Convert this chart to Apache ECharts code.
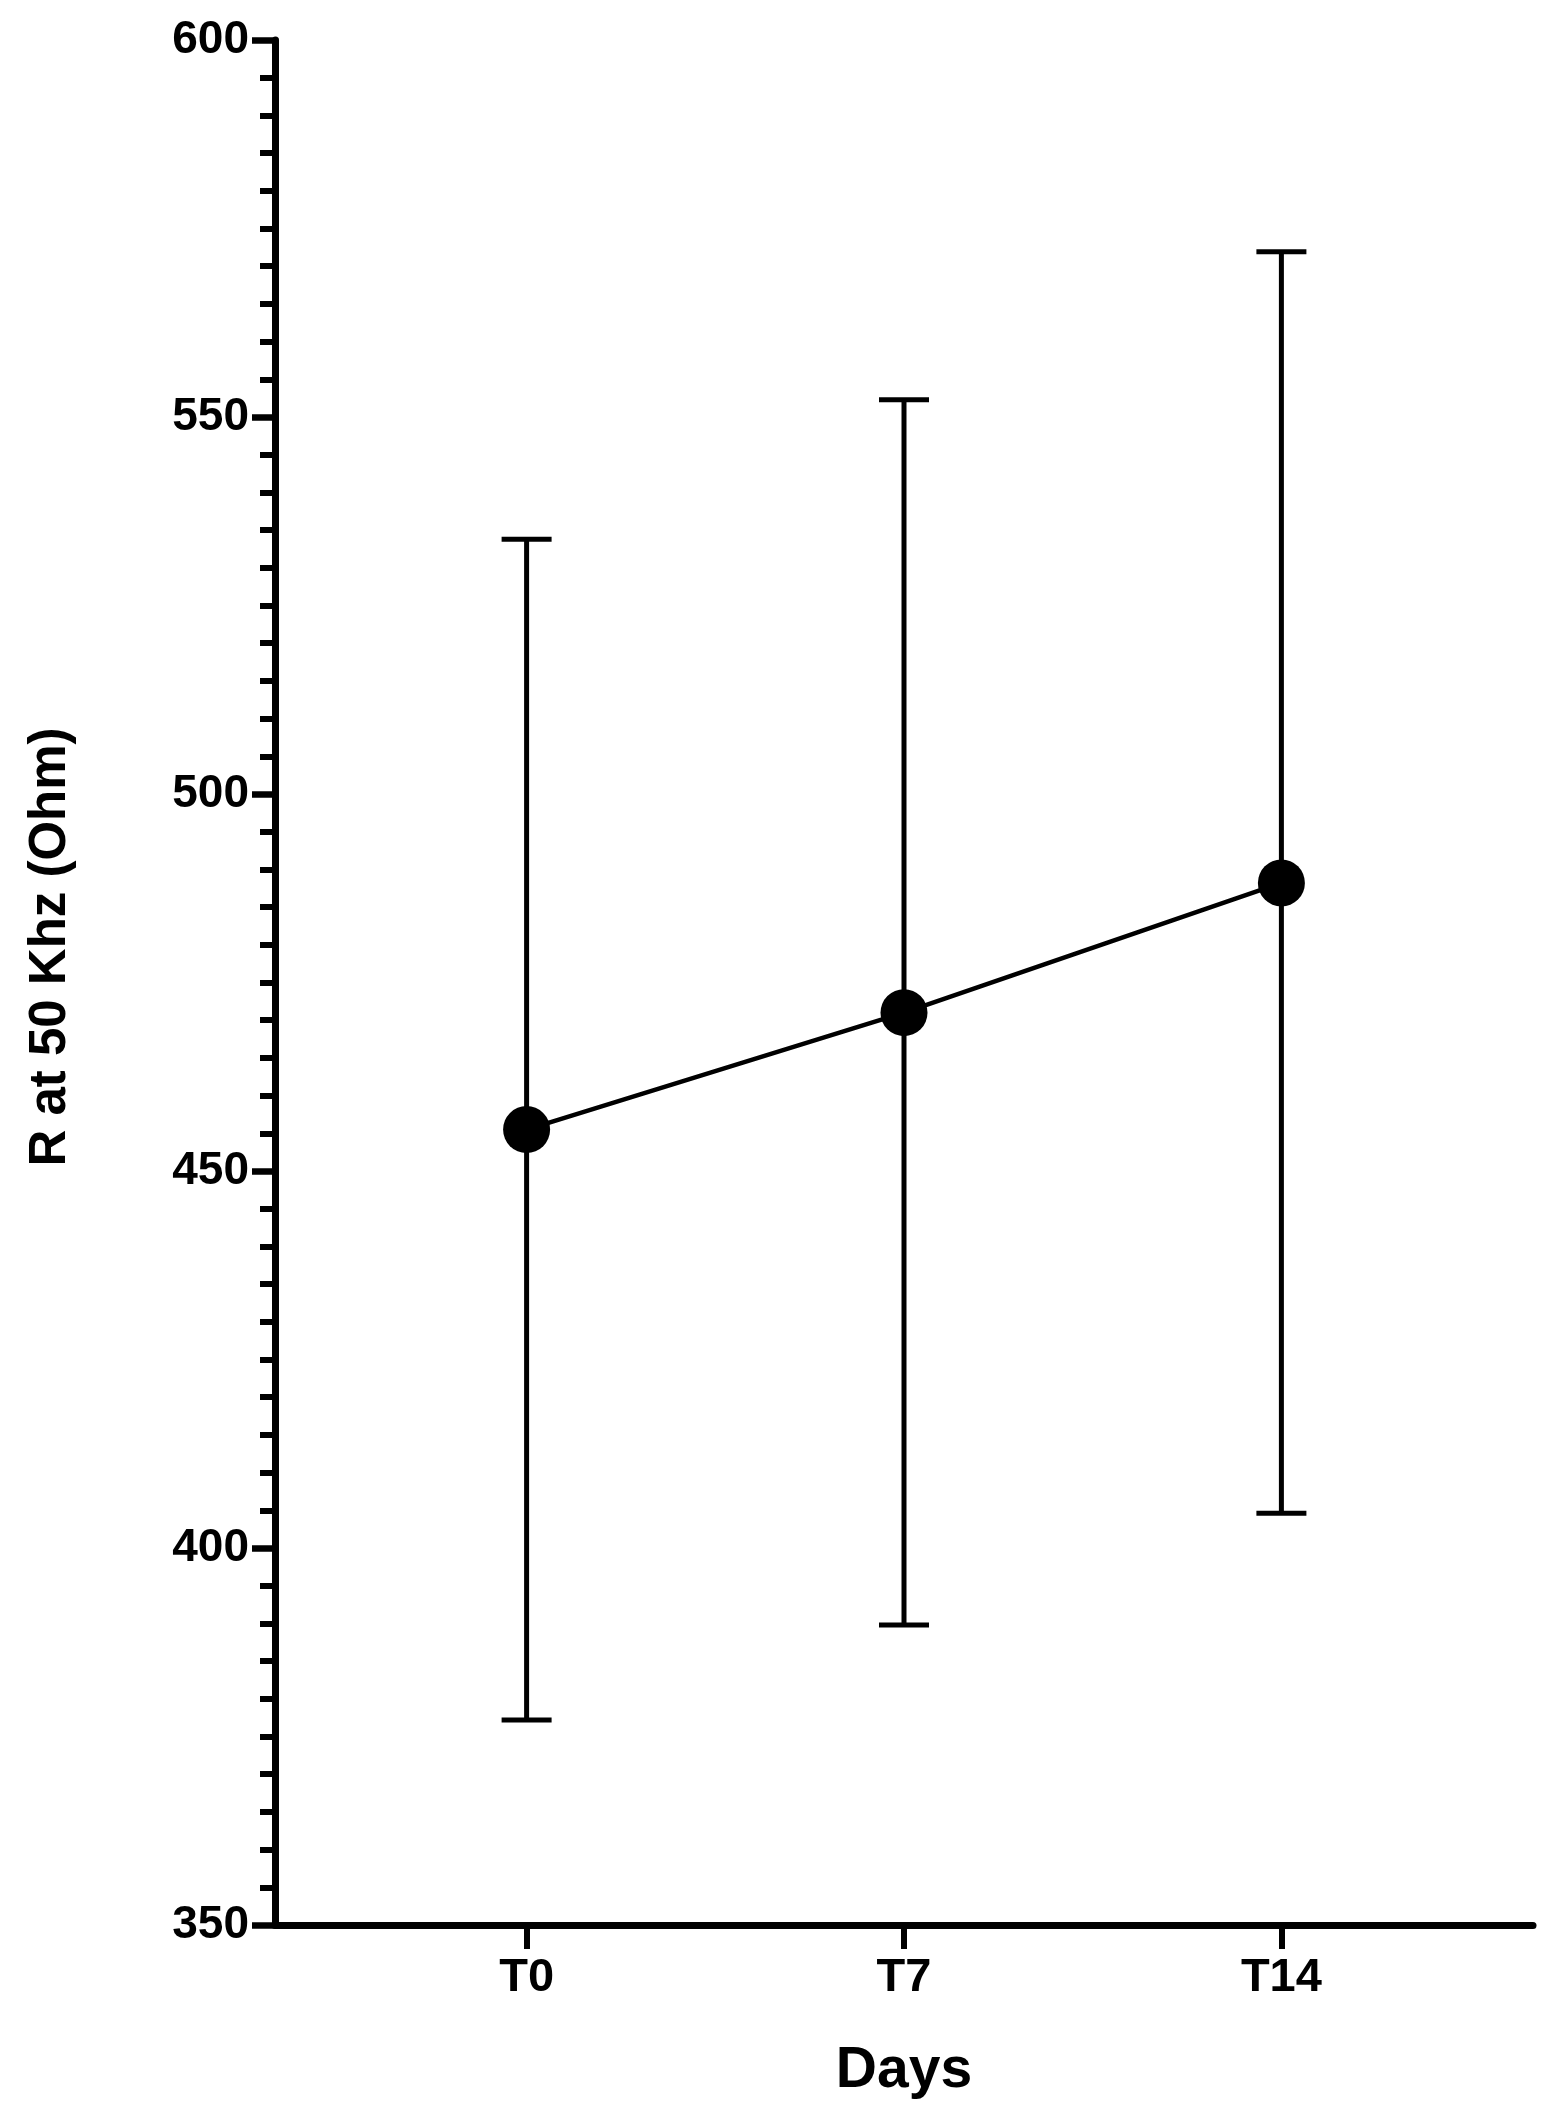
<!DOCTYPE html>
<html>
<head>
<meta charset="utf-8">
<script src="https://cdn.jsdelivr.net/npm/echarts@6/dist/echarts.min.js"></script>
<style>
html,body{margin:0;padding:0;background:#fff;}
#chart{width:1554px;height:2105px;}
</style>
</head>
<body>
<div id="chart"></div>
<script>
const categories = ['T0', 'T7', 'T14'];
const meanValues = [455.5, 471.0, 488.2];
const lowerValues = [377.2, 389.8, 404.6];
const upperValues = [533.8, 552.3, 571.9];
const yTicks = [350, 400, 450, 500, 550, 600];

const FONT = '"Liberation Sans", Arial, Helvetica, sans-serif';
const chart = echarts.init(document.getElementById('chart'), null, {renderer: 'canvas'});

const lineData = meanValues.map((v, i) => [i, v]);
const errData = categories.map((c, i) => [i, lowerValues[i], upperValues[i]]);

chart.setOption({
  backgroundColor: '#ffffff',
  animation: false,
  grid: {left: 275, right: 21, top: 40, bottom: 180},
  xAxis: {
    type: 'value',
    min: -2/3,
    max: 8/3,
    splitLine: {show: false},
    axisLine: {show: true, onZero: false, lineStyle: {color: '#000', width: 7}},
    axisTick: {show: true, customValues: [0, 1, 2], length: 24, lineStyle: {color: '#000', width: 6}},
    axisLabel: {
      show: true,
      customValues: [0, 1, 2],
      formatter: v => categories[Math.round(v)],
      color: '#000', fontFamily: FONT, fontWeight: 'bold', fontSize: 47, margin: 30
    },
    name: 'Days',
    nameLocation: 'middle',
    nameGap: 118,
    nameTextStyle: {color: '#000', fontFamily: FONT, fontWeight: 'bold', fontSize: 57}
  },
  yAxis: {
    type: 'value',
    min: yTicks[0],
    max: yTicks[yTicks.length - 1],
    interval: 50,
    splitLine: {show: false},
    axisLine: {show: true, onZero: false, lineStyle: {color: '#000', width: 7}},
    axisTick: {show: true, length: 23, lineStyle: {color: '#000', width: 6.5}},
    minorTick: {show: true, splitNumber: 10, length: 15, lineStyle: {color: '#000', width: 6}},
    minorSplitLine: {show: false},
    axisLabel: {color: '#000', fontFamily: FONT, fontWeight: 'bold', fontSize: 46, margin: 26}
  },
  graphic: [{
    type: 'text',
    x: 51, y: 947,
    rotation: Math.PI / 2,
    style: {
      text: 'R at 50 Khz (Ohm)',
      fill: '#000',
      font: 'bold 51px ' + FONT,
      align: 'center',
      verticalAlign: 'middle'
    }
  }],
  series: [
    {
      type: 'custom',
      data: errData,
      z: 2,
      renderItem: function (params, api) {
        const x = api.value(0);
        const lo = api.coord([x, api.value(1)]);
        const hi = api.coord([x, api.value(2)]);
        const hw = 25;
        const st = {stroke: '#000', lineWidth: 5};
        return {
          type: 'group',
          children: [
            {type: 'line', shape: {x1: lo[0], y1: lo[1], x2: hi[0], y2: hi[1]}, style: st},
            {type: 'line', shape: {x1: hi[0] - hw, y1: hi[1], x2: hi[0] + hw, y2: hi[1]}, style: st},
            {type: 'line', shape: {x1: lo[0] - hw, y1: lo[1], x2: lo[0] + hw, y2: lo[1]}, style: st}
          ]
        };
      }
    },
    {
      type: 'line',
      data: lineData,
      z: 3,
      symbol: 'circle',
      symbolSize: 47,
      itemStyle: {color: '#000'},
      lineStyle: {color: '#000', width: 4.5}
    }
  ]
});
</script>
</body>
</html>
